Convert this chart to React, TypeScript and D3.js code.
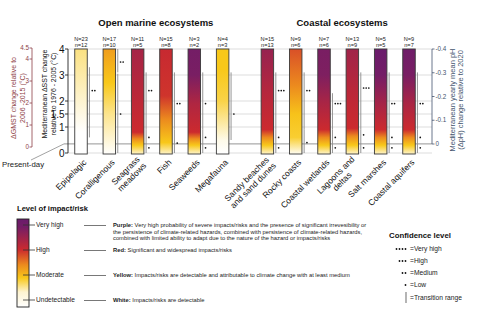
import React from 'react';
import * as d3 from 'd3';

// ---------- DATA ----------
const categories = [
  'Epipelagic', 'Coralligenous', 'Seagrass\nmeadows', 'Fish', 'Seaweeds', 'Megafauna',
  'Sandy beaches\nand sand dunes', 'Rocky coasts', 'Coastal wetlands', 'Lagoons and\ndeltas',
  'Salt marshes', 'Coastal aquifers',
];
const groupTitles = ['Open marine ecosystems', 'Coastal ecosystems'];
const groupIndex = [0, 0, 0, 0, 0, 0, 1, 1, 1, 1, 1, 1];
const studiesN = [23, 17, 11, 15, 3, 4, 15, 9, 7, 13, 5, 9];
const studiesn = [12, 10, 5, 8, 2, 3, 13, 6, 6, 9, 5, 7];

// ember colour stops: [ΔSST (°C), risk level 0=white 1=yellow 2=red 3=purple]
const emberStops: [number, number][][] = [
  [[0, 0], [0.8, 0], [4, 0.55]],
  [[0, 0.02], [1.5, 0.5], [2.7, 1], [4, 1.35]],
  [[0, 0.3], [0.3, 1], [0.55, 1.5], [0.8, 2], [2.4, 2.2], [4, 2.4]],
  [[0, 0.3], [0.4, 1], [1.3, 1.5], [2.2, 1.95], [4, 2.05]],
  [[0, 0.3], [0.3, 1], [0.55, 1.5], [0.8, 2], [1.9, 2.3], [3, 2.85], [4, 2.9]],
  [[0, 0], [0.5, 0.1], [2, 0.8], [3.2, 1], [4, 1]],
  [[0, 0.3], [0.3, 1], [0.6, 1.5], [0.9, 2], [2.4, 2.25], [4, 2.55]],
  [[0, 0.1], [0.6, 0.9], [1.5, 1.05], [2.6, 1.5], [4, 1.8]],
  [[0, 0.3], [0.3, 1], [0.6, 1.5], [0.9, 2], [1.9, 2.35], [3, 2.8], [4, 2.85]],
  [[0, 0.3], [0.3, 1], [0.65, 1.5], [0.95, 2], [2.5, 2.2], [4, 2.45]],
  [[0, 0.3], [0.3, 1], [0.6, 1.5], [0.9, 2], [1.9, 2.4], [3, 2.9], [4, 3]],
  [[0, 0.3], [0.3, 1], [0.6, 1.5], [0.9, 2], [1.9, 2.35], [3, 2.85], [4, 2.95]],
];
// transition ranges (°C)
const transitionRanges: [number, number][][] = [
  [[0.6, 3.3]],
  [[0, 3.05], [3.1, 4]],
  [[0, 0.35], [0.35, 0.9], [0.9, 3.1]],
  [[0, 0.9], [0.9, 3.1]],
  [[0, 0.35], [0.35, 0.9], [0.9, 3.1]],
  [[0.5, 3.1]],
  [[0, 0.35], [0.35, 0.9], [0.9, 3.1]],
  [[0, 0.9], [0.9, 3.1]],
  [[0, 0.35], [0.35, 0.9], [0.9, 2.3]],
  [[0, 0.35], [0.35, 0.9], [0.9, 3.1]],
  [[0, 0.35], [0.35, 0.9], [0.9, 3.1]],
  [[0, 0.35], [0.35, 0.9], [0.9, 3.1]],
];
// confidence marks: [ΔSST (°C), number of dots]
const confidenceMarks: [number, number][][] = [
  [[2.4, 2]],
  [[1.5, 1], [3.5, 2]],
  [[0.2, 1], [0.6, 1], [2.4, 2]],
  [[0.38, 1], [1.9, 2]],
  [[0.2, 1], [0.6, 1], [1.9, 1]],
  [[1.5, 1]],
  [[0.2, 1], [0.6, 1], [2.4, 3]],
  [[0.4, 1], [2.4, 2]],
  [[0.2, 1], [0.6, 1], [1.9, 3]],
  [[0.2, 1], [0.7, 1], [2.5, 3]],
  [[0.2, 1], [0.6, 1], [1.9, 2]],
  [[0.2, 1], [0.6, 1], [1.9, 2]],
];
const sstTicks = [0, 1, 1.5, 2, 3, 4];
const gmstTicks = [0, 1, 2, 3, 4, 4.5];
const phTicks = [0, -0.1, -0.2, -0.3, -0.4];
const presentDaySST = 0.35;

const riskLevelNames = ['Undetectable', 'Moderate', 'High', 'Very high'];
const riskLevelValues = [0, 1, 2, 3];
const riskPrefixes = ['White:', 'Yellow:', 'Red:', 'Purple:'];
const riskDescriptions = [
  ['Impacts/risks are detectable'],
  ['Impacts/risks are detectable and attributable to climate change with at least medium'],
  ['Significant and widespread impacts/risks'],
  [
    'Very high probability of severe impacts/risks and the presence of significant irrevesibility or',
    'the persistence of climate-related hazards, combined with persistence of climate-related hazards,',
    'combined with limited ability to adapt due to the nature of the hazard or impacts/risks',
  ],
];
const confidenceNames = ['Very high', 'High', 'Medium', 'Low'];
const confidenceDots = [4, 3, 2, 1];
// legend colour bar: [fraction from bottom, risk level]
const legendBarStops: [number, number][] = [[0, 0], [0.17, 0.2], [0.33, 1], [0.48, 1.5], [0.65, 2], [0.91, 2.9], [1, 3]];

// ---------- HELPERS ----------
const FONT = '"Liberation Sans", Arial, Helvetica, sans-serif';
let ctx: CanvasRenderingContext2D | null = null;
function measure(t: string, size: number, weight = 'normal') {
  if (!ctx && typeof document !== 'undefined') ctx = document.createElement('canvas').getContext('2d');
  if (!ctx) return t.length * size * 0.5;
  ctx.font = `${weight} ${size}px ${FONT}`;
  return ctx.measureText(t).width;
}

const levelColor = d3
  .scaleLinear<string>()
  .domain([0, 1, 1.5, 2, 3])
  .range(['#ffffff', '#f8c81a', '#ec8a1e', '#cc2a2e', '#6a1c6c'])
  .interpolate(d3.interpolateRgb)
  .clamp(true);

export default function App() {
  const W = 480, H = 324;
  const y = d3.scaleLinear().domain([0, 4]).range([153, 49]);
  const yG = d3.scaleLinear().domain([0, 4.5]).range([147, 48]);
  const yPH = d3.scaleLinear().domain([0, -0.4]).range([144, 49]);
  const slots = categories.map((_, i) => i + (groupIndex[i] === 1 ? 0.58 : 0));
  const x = d3.scaleLinear().domain([0, 11.58]).range([81, 409]);
  const bw = 12.5;
  const axisX = 68, gmstX = 32, phX = 432;

  const legendY = d3.scaleLinear().domain([0, 3]).range([300, 225]);

  return (
    <svg width={W} height={H} style={{ position: 'absolute', left: 0, top: 0, background: '#fff' }} fontFamily={FONT}>
      <defs>
        {emberStops.map((stops, i) => (
          <linearGradient key={i} id={`ember${i}`} gradientUnits="userSpaceOnUse" x1={0} x2={0} y1={y(0)} y2={y(4)}>
            {stops.map(([v, l], j) => (
              <stop key={j} offset={v / 4} stopColor={levelColor(l)} />
            ))}
          </linearGradient>
        ))}
        <linearGradient id="legendGrad" gradientUnits="userSpaceOnUse" x1={0} x2={0} y1={307} y2={219}>
          {legendBarStops.map(([f, l], j) => (
            <stop key={j} offset={f} stopColor={levelColor(l)} />
          ))}
        </linearGradient>
      </defs>

      {/* group titles */}
      {groupTitles.map((t, g) => {
        const idx = categories.map((_, i) => i).filter((i) => groupIndex[i] === g);
        const cx = (x(slots[idx[0]]) + x(slots[idx[idx.length - 1]])) / 2;
        return (
          <text key={t} x={cx + 4} y={25.5} textAnchor="middle" fontWeight="bold" fontSize={9.5} fill="#111">
            {t}
          </text>
        );
      })}

      {/* grid lines */}
      {sstTicks.map((t) => (
        <line key={t} x1={axisX} x2={phX} y1={y(t)} y2={y(t)} stroke="#d4d4d4" strokeWidth={0.8} />
      ))}
      {/* present-day line */}
      <line x1={64} x2={phX} y1={y(presentDaySST)} y2={y(presentDaySST)} stroke="#8a8a8a" strokeWidth={0.9} />
      <line x1={31} x2={64} y1={160} y2={y(presentDaySST)} stroke="#8a8a8a" strokeWidth={0.8} />
      <text x={2} y={167} fontSize={7.8} fill="#222">Present-day</text>

      {/* main SST axis */}
      <line x1={axisX} x2={axisX} y1={y(4)} y2={y(0)} stroke="#222" strokeWidth={0.9} />
      {sstTicks.map((t) => (
        <g key={t}>
          <line x1={axisX - 3} x2={axisX} y1={y(t)} y2={y(t)} stroke="#222" strokeWidth={0.9} />
          <text x={axisX - 3.5} y={y(t) + 3.5} textAnchor="end" fontSize={10} fill="#111">{t}</text>
        </g>
      ))}
      <text transform={`translate(47,94) rotate(-90)`} textAnchor="middle" fontSize={6.9} fill="#111">
        Mediterranean ΔSST change
      </text>
      <text transform={`translate(56,94) rotate(-90)`} textAnchor="middle" fontSize={6.9} fill="#111">
        relative to 1976 - 2005 (°C)
      </text>

      {/* GMST axis */}
      <line x1={gmstX} x2={gmstX} y1={yG(4.5)} y2={yG(0)} stroke="#8e3f46" strokeWidth={0.8} />
      {gmstTicks.map((t) => (
        <g key={t}>
          <line x1={gmstX - 2.5} x2={gmstX} y1={yG(t)} y2={yG(t)} stroke="#8e3f46" strokeWidth={0.8} />
          <text x={gmstX - 3} y={yG(t) + 2.2} textAnchor="end" fontSize={6.3} fill="#8e3f46">{t}</text>
        </g>
      ))}
      <text transform={`translate(16,98) rotate(-90)`} textAnchor="middle" fontSize={7} fill="#8e3f46">
        ΔGMST change relative to
      </text>
      <text transform={`translate(25,98) rotate(-90)`} textAnchor="middle" fontSize={7} fill="#8e3f46">
        2006 -2015 (°C)
      </text>

      {/* pH axis */}
      <line x1={phX} x2={phX} y1={yPH(-0.4)} y2={yPH(0)} stroke="#44546e" strokeWidth={0.8} />
      {phTicks.map((t) => (
        <g key={t}>
          <line x1={phX} x2={phX + 2.5} y1={yPH(t)} y2={yPH(t)} stroke="#44546e" strokeWidth={0.8} />
          <text x={phX + 3.5} y={yPH(t) + 2.2} fontSize={6.3} fill="#44546e">{t === 0 ? '0' : t.toFixed(1)}</text>
        </g>
      ))}
      <text transform={`translate(455,100) rotate(-90)`} textAnchor="middle" fontSize={7.5} fill="#44546e">
        Mediterranean yearly mean pH
      </text>
      <text transform={`translate(463,100) rotate(-90)`} textAnchor="middle" fontSize={7.5} fill="#44546e">
        (ΔpH) change relative to 2020
      </text>

      {/* bars */}
      {categories.map((c, i) => {
        const cx = x(slots[i]);
        const right = cx + bw / 2;
        const lines = c.split('\n');
        const lh = 9;
        const widths = lines.map((l) => measure(l, 8.5));
        const maxW = Math.max(...widths);
        return (
          <g key={c}>
            <text x={cx} y={40.5} textAnchor="middle" fontSize={5.6} fill="#222">N={studiesN[i]}</text>
            <text x={cx} y={46.5} textAnchor="middle" fontSize={5.6} fill="#222">n={studiesn[i]}</text>
            <rect x={cx - bw / 2} y={y(4)} width={bw} height={y(0) - y(4) + 1} fill={`url(#ember${i})`} stroke="#3a3a3a" strokeWidth={0.9} />
            {transitionRanges[i].map(([lo, hi], j) => (
              <line key={j} x1={right + 2.2} x2={right + 2.2} y1={y(hi)} y2={y(lo)} stroke="#8a8a8a" strokeWidth={0.9} />
            ))}
            {confidenceMarks[i].map(([v, n], j) =>
              d3.range(n).map((k) => (
                <circle key={`${j}-${k}`} cx={right + 5 + k * 2.6} cy={y(v)} r={0.85} fill="#111" />
              ))
            )}
            <g transform={`translate(${cx + 6},163) rotate(-45)`}>
              {lines.map((l, k) => (
                <text key={k} x={-(maxW - widths[k]) / 2} y={(k - (lines.length - 1) / 2) * lh} textAnchor="end" fontSize={8.5} fill="#111">
                  {l}
                </text>
              ))}
            </g>
          </g>
        );
      })}

      {/* risk legend */}
      <text x={17} y={211} fontSize={7.6} fontWeight="bold" fill="#111">Level of impact/risk</text>
      <rect x={17} y={219} width={12} height={88} fill="url(#legendGrad)" stroke="#222" strokeWidth={0.9} />
      {riskLevelValues.map((lv, i) => {
        const ly = legendY(lv);
        return (
          <g key={lv}>
            <line x1={23} x2={35} y1={ly} y2={ly} stroke="#333" strokeWidth={0.8} />
            <text x={36} y={ly + 2.4} fontSize={6.6} fill="#222">{riskLevelNames[i]}</text>
            <line x1={84} x2={106} y1={ly + 0.5} y2={ly + 0.5} stroke="#555" strokeWidth={0.8} />
            {riskDescriptions[i].map((d, k) => (
              <text key={k} x={113} y={ly + 2 + k * 6.5} fontSize={5.8} fill="#222">
                {k === 0 && <tspan fontWeight="bold">{riskPrefixes[i]} </tspan>}
                {d}
              </text>
            ))}
          </g>
        );
      })}

      {/* confidence legend */}
      <text x={389} y={238} fontSize={7.8} fontWeight="bold" fill="#111">Confidence level</text>
      {confidenceNames.map((nm, i) => {
        const ly = 249 + i * 12;
        return (
          <g key={nm}>
            {d3.range(confidenceDots[i]).map((k) => (
              <circle key={k} cx={405.5 - k * 3} cy={ly} r={0.9} fill="#111" />
            ))}
            <text x={410} y={ly + 2.4} fontSize={6.7} fill="#222">={nm}</text>
          </g>
        );
      })}
      <line x1={406} x2={406} y1={292} y2={303} stroke="#777" strokeWidth={1.1} />
      <text x={410} y={300} fontSize={6.7} fill="#222">=Transition range</text>
    </svg>
  );
}
